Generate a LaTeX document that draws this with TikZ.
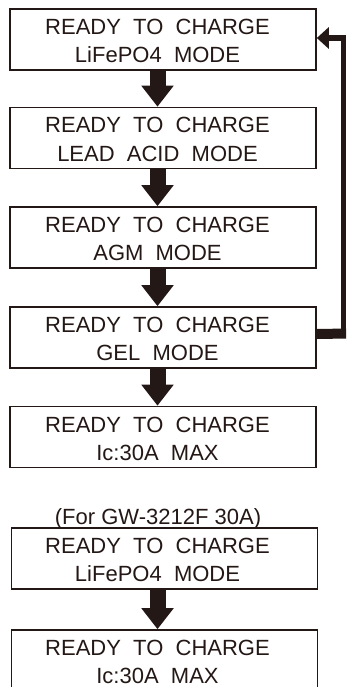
\documentclass[tikz,border=0pt]{standalone}
\usepackage{fontspec}
\setmainfont{Liberation Sans}
\usetikzlibrary{arrows.meta}
\definecolor{ink}{HTML}{231815}
\tikzset{
  x=1pt, y=1pt,
  lcdbox/.style={draw=ink, line width=1.6pt, minimum width=306pt, minimum height=61pt, inner sep=0pt},
  lcdtxt/.style={anchor=base, inner sep=0pt, text=ink, font=\fontsize{22}{26}\selectfont},
  bigarrow/.style={draw=ink, line width=16pt, -{Triangle[width=31pt,length=21pt]}},
  fbline/.style={draw=ink, line width=5.5pt},
}
\newcommand{\lcd}[5]{%
  \node[lcdbox] (#1) at (#2,-#3-30.5) {};
  \node[lcdtxt] (#1a) at (157.5,-#3-25.5) {#4};
  \node[lcdtxt] (#1b) at (157.5,-#3-53.5) {#5};
}
\begin{document}
\begin{tikzpicture}
\clip (0,0) rectangle (346,-687);
\fill[white] (0,0) rectangle (346,-687);
\lcd{b1}{163}{9}{READY\ \ TO\ \ CHARGE}{LiFePO4\ \ MODE}
\lcd{b2}{163}{107.5}{READY\ \ TO\ \ CHARGE}{LEAD\ \ ACID\ \ MODE}
\lcd{b3}{163}{207}{READY\ \ TO\ \ CHARGE}{AGM\ \ MODE}
\lcd{b4}{163}{307}{READY\ \ TO\ \ CHARGE}{GEL\ \ MODE}
\lcd{b5}{163}{406.5}{READY\ \ TO\ \ CHARGE}{Ic:30A\ \ MAX}
\node[lcdtxt] (hd) at (158,-524) {(For GW-3212F 30A)};
\lcd{b6}{164.5}{528}{READY\ \ TO\ \ CHARGE}{LiFePO4\ \ MODE}
\lcd{b7}{164.5}{630}{READY\ \ TO\ \ CHARGE}{Ic:30A\ \ MAX}
% down arrows
\foreach \a/\b in {b1/b2, b2/b3, b3/b4, b4/b5, b6/b7}{
  \draw[bigarrow] (\a.south -| 157.5,0) -- (\b.north -| 157.5,0);
}
% feedback loop
\coordinate (fbr) at (348,-333.5);
\coordinate (fbc) at (343.5,-333.5);
\draw[ink, line width=10pt] ([yshift=3.5pt]b4.east) -- (fbr);
\draw[fbline, -{Triangle[width=21pt,length=12pt]}] (fbc) |- ([yshift=1.5pt]b1.east);
\end{tikzpicture}
\end{document}
